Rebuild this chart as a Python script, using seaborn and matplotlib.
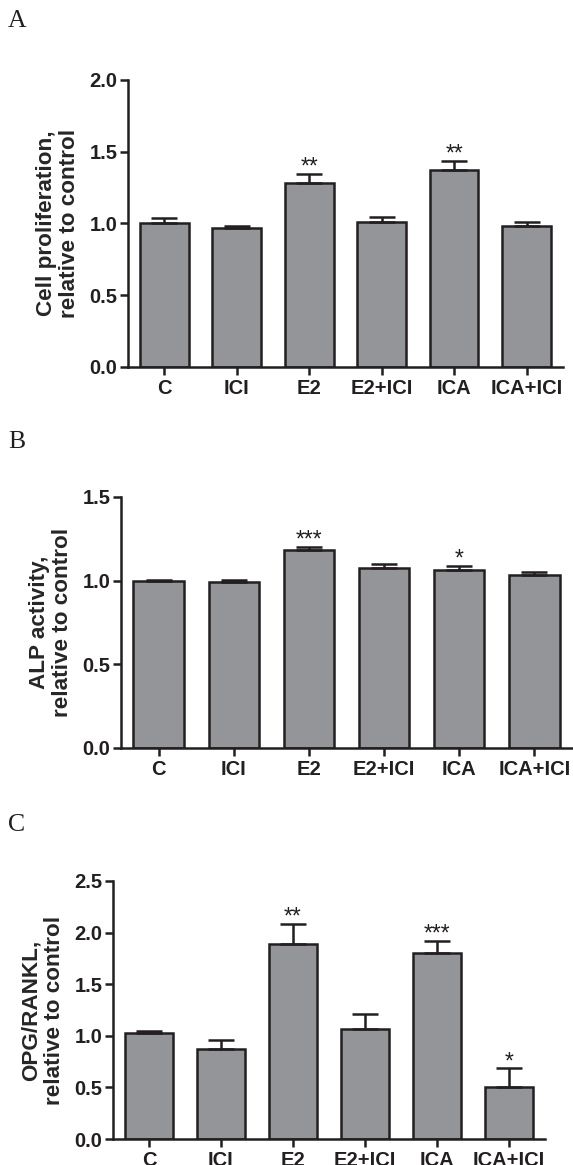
import numpy as np
import pandas as pd
import seaborn as sns
import matplotlib
matplotlib.use("Agg")
import matplotlib.pyplot as plt

# -------------------------------
# Data
# -------------------------------
groups = ["C", "ICI", "E2", "E2+ICI", "ICA", "ICA+ICI"]

prolif_mean = [1.00, 0.97, 1.28, 1.01, 1.37, 0.985]
prolif_err = [0.035, 0.01, 0.065, 0.037, 0.065, 0.025]
prolif_stars = ["", "", "**", "", "**", ""]

alp_mean = [1.00, 0.99, 1.18, 1.075, 1.065, 1.032]
alp_err = [0.004, 0.015, 0.022, 0.025, 0.023, 0.018]
alp_stars = ["", "", "***", "", "*", ""]

opg_mean = [1.025, 0.87, 1.89, 1.063, 1.805, 0.50]
opg_err = [0.025, 0.088, 0.195, 0.146, 0.114, 0.185]
opg_stars = ["", "", "**", "", "***", "*"]

# -------------------------------
# Style
# -------------------------------
sns.set_style("ticks")
plt.rcParams["font.family"] = ["Liberation Sans", "DejaVu Sans"]

bar_color = "#939598"
edge_color = "#231f20"
lw = 1.8

panels = [
    # letter, means, errs, stars, ylabel, ylim, ticks, axes rect, letter y
    ("A", prolif_mean, prolif_err, prolif_stars,
     "Cell proliferation,\nrelative to control", 2.0, [0.0, 0.5, 1.0, 1.5, 2.0],
     [0.2234, 0.685, 0.759, 0.2464], 1 - 21 / 1165),
    ("B", alp_mean, alp_err, alp_stars,
     "ALP activity,\nrelative to control", 1.5, [0.0, 0.5, 1.0, 1.5],
     [0.2112, 0.358, 0.787, 0.2155], 1 - 442 / 1165),
    ("C", opg_mean, opg_err, opg_stars,
     "OPG/RANKL,\nrelative to control", 2.5, [0.0, 0.5, 1.0, 1.5, 2.0, 2.5],
     [0.197, 0.0223, 0.754, 0.2215], 1 - 825 / 1165),
]

fig = plt.figure(figsize=(5.73, 11.65), dpi=100)

for letter, means, errs, stars, ylabel, ytop, ticks, rect, ly in panels:
    ax = fig.add_axes(rect)
    df = pd.DataFrame({"group": groups, "value": means})
    sns.barplot(data=df, x="group", y="value", color=bar_color, saturation=1,
                edgecolor=edge_color, linewidth=lw, width=0.67,
                errorbar=None, ax=ax)
    x = np.arange(len(groups))
    ax.errorbar(x, means, yerr=[np.zeros(len(errs)), errs], fmt="none",
                ecolor=edge_color, elinewidth=lw, capsize=9.5, capthick=lw,
                zorder=1)
    # significance marks, baseline sitting on the cap
    for xi, m, e, s in zip(x, means, errs, stars):
        if s:
            ax.text(xi, m + e, s, ha="center", va="baseline",
                    fontsize=16.5, color=edge_color)

    ax.set_xlim(-0.5, 5.5)
    ax.set_ylim(0, ytop)
    ax.set_yticks(ticks)
    ax.set_yticklabels([f"{t:.1f}" for t in ticks], fontweight="bold", fontsize=14.5)
    ax.set_xticklabels(groups, fontweight="bold", fontsize=14.5)
    ax.set_xlabel("")
    ax.set_ylabel(ylabel, fontweight="bold", fontsize=16.2, labelpad=7,
                  linespacing=1.12)
    sns.despine(ax=ax)
    for sp in ["left", "bottom"]:
        ax.spines[sp].set_linewidth(lw)
        ax.spines[sp].set_color(edge_color)
    ax.spines["left"].set_bounds(0, ytop)
    ax.tick_params(axis="both", length=5.5, width=lw, color=edge_color,
                   labelcolor=edge_color, pad=2)
    ax.tick_params(axis="x", pad=3)
    ax.set_facecolor("none")

    fig.text(8 / 573, ly, letter, family="Liberation Serif", fontsize=18.5,
             ha="left", va="center", color=edge_color)

plt.savefig("out.png", dpi=100)
plt.close()
